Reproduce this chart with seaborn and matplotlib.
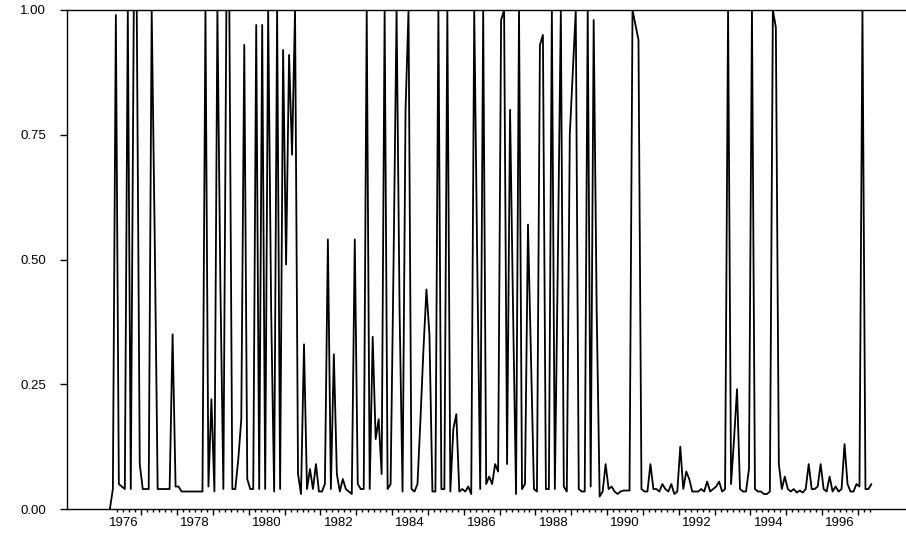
import numpy as np
import pandas as pd
import seaborn as sns
from matplotlib import pyplot as plt
from matplotlib.ticker import FixedLocator, NullFormatter

# monthly series, starting Feb 1976
start_year = 1976
start_month = 2
prob = [
    0.0, 0.04, 0.99, 0.05, 0.045, 0.04, 1.0, 0.04, 1.0, 1.0, 0.09, 0.04,
    0.04, 0.04, 1.0, 0.55, 0.04, 0.04, 0.04, 0.04, 0.04, 0.35, 0.045, 0.045,
    0.035, 0.035, 0.035, 0.035, 0.035, 0.035, 0.035, 0.035, 1.0, 0.045, 0.22, 0.035,
    1.0, 0.45, 0.04, 1.0, 1.0, 0.04, 0.04, 0.10, 0.18, 0.93, 0.06, 0.04,
    0.04, 0.97, 0.04, 0.97, 0.04, 1.0, 0.4, 0.035, 1.0, 0.04, 0.92, 0.49,
    0.91, 0.71, 1.0, 0.07, 0.03, 0.33, 0.04, 0.08, 0.04, 0.09, 0.035, 0.035,
    0.05, 0.54, 0.04, 0.31, 0.07, 0.035, 0.06, 0.04, 0.035, 0.03, 0.54, 0.05,
    0.04, 0.04, 1.0, 0.04, 0.345, 0.14, 0.18, 0.07, 1.0, 0.04, 0.05, 0.5,
    1.0, 0.4, 0.035, 0.8, 1.0, 0.04, 0.035, 0.05, 0.18, 0.32, 0.44, 0.35,
    0.035, 0.035, 1.0, 0.04, 0.04, 1.0, 0.035, 0.16, 0.19, 0.035, 0.04, 0.035,
    0.045, 0.03, 1.0, 0.5, 0.04, 1.0, 0.05, 0.065, 0.05, 0.09, 0.075, 0.98,
    1.0, 0.09, 0.8, 0.4, 0.03, 1.0, 0.04, 0.05, 0.57, 0.3, 0.04, 0.035,
    0.93, 0.95, 0.04, 0.04, 1.0, 0.04, 0.5, 1.0, 0.045, 0.035, 0.75, 0.875,
    1.0, 0.04, 0.035, 0.035, 1.0, 0.045, 0.98, 0.4, 0.025, 0.035, 0.09, 0.04,
    0.045, 0.035, 0.03, 0.035, 0.037, 0.037, 0.037, 1.0, 0.97, 0.94, 0.04, 0.035,
    0.035, 0.09, 0.04, 0.04, 0.035, 0.05, 0.04, 0.035, 0.05, 0.03, 0.035, 0.125,
    0.04, 0.075, 0.06, 0.035, 0.035, 0.035, 0.04, 0.035, 0.055, 0.035, 0.04, 0.045,
    0.055, 0.035, 0.04, 1.0, 0.05, 0.14, 0.24, 0.04, 0.035, 0.035, 0.08, 1.0,
    0.04, 0.035, 0.035, 0.03, 0.03, 0.035, 1.0, 0.965, 0.09, 0.04, 0.065, 0.04,
    0.035, 0.04, 0.033, 0.037, 0.033, 0.04, 0.09, 0.04, 0.04, 0.045, 0.09, 0.04,
    0.035, 0.065, 0.035, 0.045, 0.035, 0.04, 0.13, 0.05, 0.035, 0.035, 0.05, 0.045,
    1.0, 0.04, 0.04, 0.05,
]

y_ticks = [0.0, 0.25, 0.5, 0.75, 1.0]
label_years = list(range(1976, 1997, 2))

# mid-month positions in decimal years
t = start_year + (start_month - 0.5 + np.arange(len(prob))) / 12
df = pd.DataFrame({"time": t, "prob": prob})

sns.set_style("ticks")
plt.rcParams["font.family"] = ["Liberation Sans", "DejaVu Sans"]

fig = plt.figure(figsize=(9.06, 5.35), dpi=100)
ax = fig.add_axes([66.7 / 906, 26 / 535, 1 - 66.7 / 906, 499 / 535])
sns.lineplot(data=df, x="time", y="prob", color="black", linewidth=1.3, ax=ax)

ax.set_xlim(1974.92, 1998.34)
ax.set_ylim(0, 1)
ax.set_xlabel("")
ax.set_ylabel("")
ax.spines["right"].set_visible(False)
for s in ["left", "bottom", "top"]:
    ax.spines[s].set_linewidth(1.0)
    ax.spines[s].set_color("black")

#y axis
ax.set_yticks(y_ticks)
ax.set_yticklabels(["{:.2f}".format(v) for v in y_ticks])
ax.tick_params(axis="y", length=5, width=1, pad=10, labelsize=9.5, colors="black")

#x axis: long ticks at year starts, short ticks every two months
ax.xaxis.set_major_locator(FixedLocator(np.arange(1977, 1998)))
ax.xaxis.set_major_formatter(NullFormatter())
ax.xaxis.set_minor_locator(FixedLocator(np.arange(1976 * 12 + 4, 1997 * 12 + 5, 2) / 12))
ax.tick_params(axis="x", which="major", length=4.5, width=1, color="black")
ax.tick_params(axis="x", which="minor", length=2.5, width=1, color="black")

#year labels centred on the middle of the year
sec = ax.secondary_xaxis("bottom")
sec.set_xticks([y + 0.5 for y in label_years])
sec.set_xticklabels([str(y) for y in label_years])
sec.tick_params(length=0, pad=6, labelsize=9.5, colors="black")
sec.spines["bottom"].set_visible(False)

plt.savefig("out.png", dpi=100)
plt.close()
